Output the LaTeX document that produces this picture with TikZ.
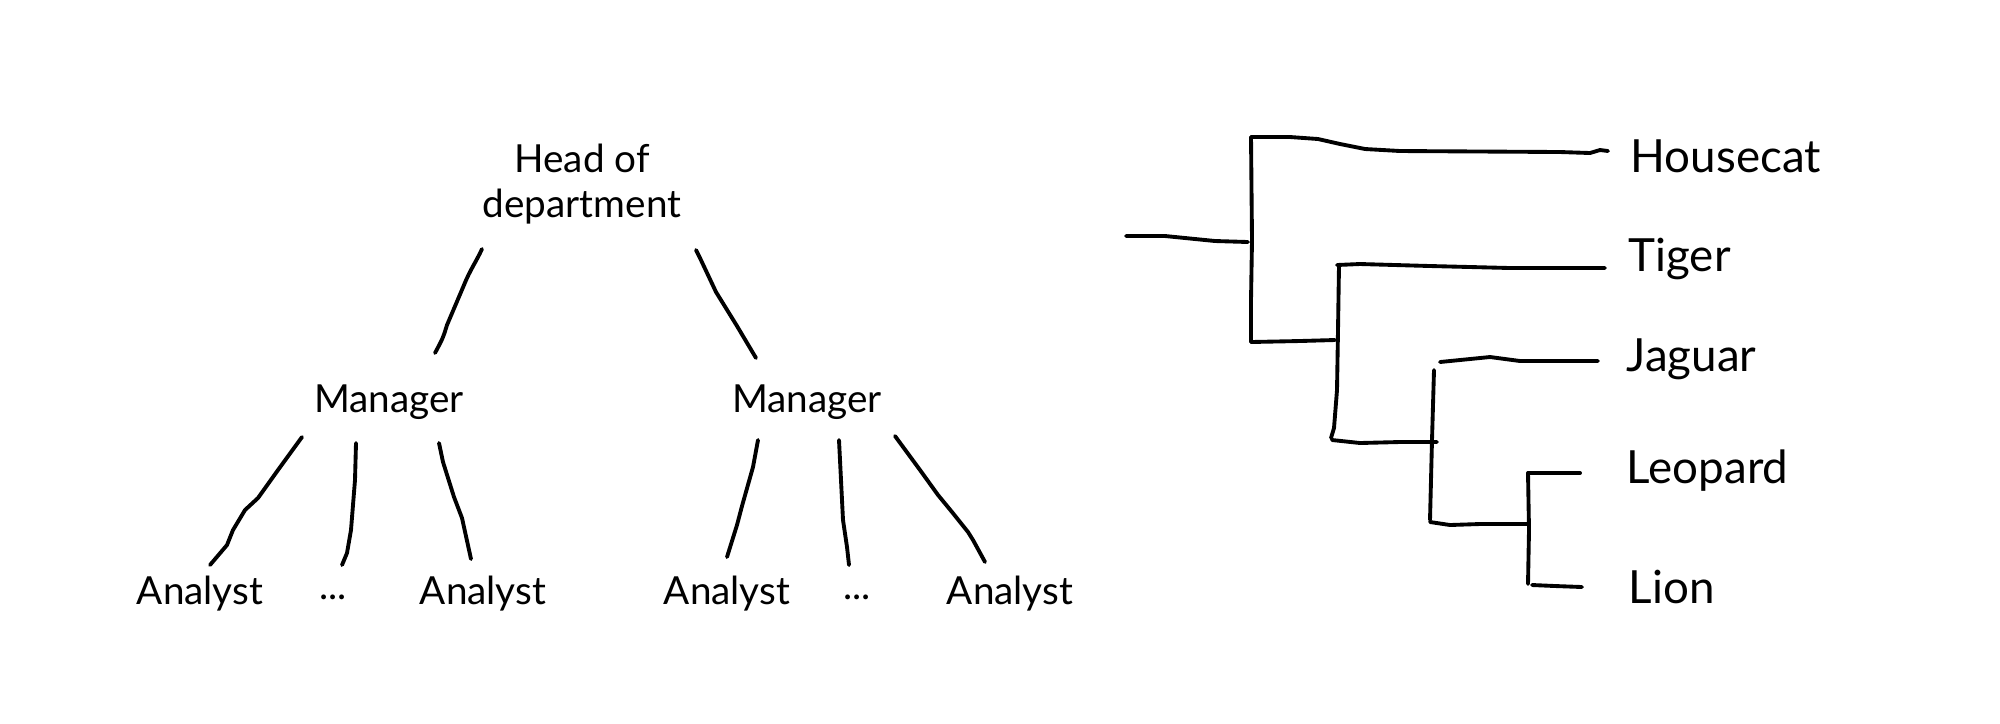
\documentclass[tikz,border=0pt]{standalone}
\usepackage{fontspec}
\setmainfont{Lato}
\begin{document}
\begin{tikzpicture}[x=0.01cm,y=-0.01cm,
  ln/.style={line width=1.1pt,line cap=round,line join=round},
  orglabel/.style={font=\fontsize{11}{13}\selectfont,inner sep=0pt,align=center},
  taxlabel/.style={font=\fontsize{13}{16}\selectfont,inner sep=0pt,anchor=west}]
\useasboundingbox (0,0) rectangle (2000,723);
% ---------- organisation tree ----------
\node[orglabel] (head) at (582,184) {Head of\\department};
\node[orglabel] (m1) at (389,402) {Manager};
\node[orglabel] (m2) at (807,402) {Manager};
\node[orglabel] (a1) at (200,594) {Analyst};
\node[orglabel] (d1) at (333,597) {...};
\node[orglabel] (a2) at (483,594) {Analyst};
\node[orglabel] (a3) at (727,594) {Analyst};
\node[orglabel] (d2) at (857,597) {...};
\node[orglabel] (a4) at (1010,594) {Analyst};
\coordinate (hl) at (482,249); \coordinate (m1t) at (435,353);
\coordinate (hr) at (696,250); \coordinate (m2t) at (756,358);
\coordinate (m1a) at (302,437); \coordinate (a1t) at (210,565);
\coordinate (m1b) at (356,443); \coordinate (d1t) at (342,565);
\coordinate (m1c) at (439,443); \coordinate (a2t) at (471,559);
\coordinate (m2a) at (758,440); \coordinate (a3t) at (727,557);
\coordinate (m2b) at (839,440); \coordinate (d2t) at (849,565);
\coordinate (m2c) at (895,436); \coordinate (a4t) at (985,562);
\draw[ln] (hl) .. controls (476,262) and (470,270) .. (464,285) -- (447,325) .. controls (443,338) .. (m1t);
\draw[ln] (hr) -- (700,258) -- (716,292) -- (737,326) -- (m2t);
\draw[ln] (m1a) -- (278,470) -- (258,498) -- (245,510) -- (233,530) -- (227,545) -- (a1t);
\draw[ln] (m1b) -- (355,480) -- (351,530) -- (347,553) -- (d1t);
\draw[ln] (m1c) -- (443,462) -- (454,497) -- (462,518) -- (a2t);
\draw[ln] (m2a) -- (753,467) -- (742,506) -- (737,525) -- (a3t);
\draw[ln] (m2b) -- (841,480) -- (843,520) -- (847,547) -- (d2t);
\draw[ln] (m2c) -- (920,470) -- (938,495) -- (952,512) -- (968,532) -- (973,540) -- (a4t);
% ---------- dendrogram ----------
\node[taxlabel] (housecat) at (1630,156) {Housecat};
\node[taxlabel] (tiger) at (1628,259) {Tiger};
\node[taxlabel] (jaguar) at (1626,359) {Jaguar};
\node[taxlabel] (leopard) at (1626,471) {Leopard};
\node[taxlabel] (lion) at (1628,587) {Lion};
\coordinate (root) at (1126,236);
\coordinate (v1t) at (1251,137); \coordinate (v1b) at (1251,342);
\coordinate (v2t) at (1337,265); \coordinate (v2b) at (1332,440);
\coordinate (v3t) at (1434,370); \coordinate (v3b) at (1430,522);
\coordinate (v4t) at (1528,473); \coordinate (v4b) at (1528,584);
\coordinate (hce) at (1608,151); \coordinate (tge) at (1605,268);
\coordinate (jge) at (1598,361); \coordinate (lpe) at (1580,473);
\coordinate (lne) at (1582,587);
% root stub
\draw[ln] (root) -- (1165,236) -- (1215,241) -- (1248,242);
% vertical 1
\draw[ln] (v1t) -- (1252,240) -- (1251,300) -- (v1b);
\draw[ln] (v1t) -- (1290,137) -- (1318,139) -- (1340,144) -- (1365,149) -- (1400,151) -- (1560,152) -- (1590,153) -- (1600,150) -- (hce);
\draw[ln] (v1b) -- (1300,341) -- (1335,340);
% vertical 2
\draw[ln] (1339,265) -- (1338,330) -- (1337,390) -- (1334,428) -- (1331,438);
\draw[ln] (v2t) -- (1360,264) -- (1430,266) -- (1510,268) -- (tge);
\draw[ln] (v2b) -- (1360,443) -- (1400,442) -- (1437,442);
% vertical 3
\draw[ln] (v3t) -- (1432,440) -- (1431,480) -- (1430,520);
\draw[ln] (1440,362) -- (1470,359) -- (1490,357) -- (1520,361) -- (jge);
\draw[ln] (v3b) -- (1450,525) -- (1480,524) -- (1528,524);
% vertical 4
\draw[ln] (v4t) -- (1529,530) -- (v4b);
\draw[ln] (v4t) -- (1555,473) -- (lpe);
\draw[ln] (1532,585) -- (1555,586) -- (lne);
\end{tikzpicture}
\end{document}
